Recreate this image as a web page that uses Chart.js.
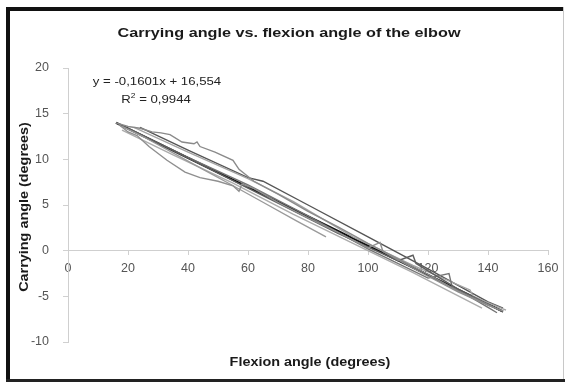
<!DOCTYPE html>
<html>
<head>
<meta charset="utf-8">
<script src="https://cdn.jsdelivr.net/npm/chart.js@4/dist/chart.umd.min.js"></script>
<style>
html,body{margin:0;padding:0;background:#fff;}
#wrap{width:565px;height:382px;position:relative;}
</style>
</head>
<body>
<div id="wrap"><canvas id="c" width="565" height="382"></canvas></div>
<script>
// ---- data ----
const chartTitle = "Carrying angle vs. flexion angle of the elbow";
const xTitle = "Flexion angle (degrees)";
const yTitle = "Carrying angle (degrees)";
const equationText = "y = -0,1601x + 16,554";
const r2Label = "R";
const r2Value = " = 0,9944";

const xTicks = [0, 20, 40, 60, 80, 100, 120, 140, 160];
const yTicks = [-10, -5, 0, 5, 10, 15, 20];

// subject curves: flexion angle (x) and carrying angle (y)
const s1x = [16, 20, 24, 28, 31, 34, 38, 42, 43, 44, 49, 55, 57, 62, 70, 80, 90, 100, 110, 120, 130, 140, 144];
const s1y = [14.0, 13.6, 13.4, 13.0, 12.9, 12.7, 11.9, 11.7, 11.9, 11.4, 10.8, 9.9, 8.9, 7.6, 6.2, 4.3, 2.6, 0.8, -0.9, -2.6, -4.4, -5.9, -6.5];
const s2x = [17, 20, 23, 27, 33, 39, 44, 50, 55, 57, 58, 62, 70, 80, 90, 100, 104, 105, 110, 120, 130, 140, 145];
const s2y = [13.8, 13.0, 12.6, 11.4, 9.9, 8.6, 8.0, 7.6, 7.1, 6.5, 7.3, 6.8, 5.3, 3.6, 2.0, 0.3, 0.9, -0.1, -1.0, -2.8, -4.5, -6.0, -6.6];
const s3x = [18, 25, 35, 45, 54, 65, 76, 86];
const s3y = [13.6, 12.5, 10.7, 8.9, 7.3, 5.3, 3.3, 1.5];
const s4x = [16, 30, 50, 70, 90, 110, 115, 116, 130, 145];
const s4y = [14.0, 11.8, 8.5, 5.2, 1.9, -1.1, -0.5, -1.4, -4.2, -6.7];
const s5x = [20, 40, 60, 80, 100, 120, 127, 128, 140, 143];
const s5y = [13.4, 10.2, 7.2, 3.8, 0.2, -3.0, -2.5, -3.9, -6.2, -6.8];
const s6x = [22, 40, 60, 75, 95, 115, 134, 135, 146];
const s6y = [13.5, 10.8, 7.9, 5.4, 1.5, -1.6, -4.3, -5.0, -6.5];
const s7x = [18, 35, 55, 75, 95, 115, 138];
const s7y = [13.2, 10.5, 7.4, 4.0, 0.8, -2.4, -6.3];
const s8x = [24, 40, 60, 65, 80, 100, 120, 140, 145];
const s8y = [13.5, 11.0, 8.0, 7.6, 5.0, 1.5, -2.0, -5.6, -6.3];
// linear trend line end points
const trendX = [16, 145];
const trendY = [14.0, -6.66];

const seriesX = [s1x, s2x, s3x, s4x, s5x, s6x, s7x, s8x];
const seriesY = [s1y, s2y, s3y, s4y, s5y, s6y, s7y, s8y];
const seriesColors = ['#8a8a8a', '#8f8f8f', '#9a9a9a', '#5e5e5e', '#747474', '#a4a4a4', '#acacac', '#555555'];

function toPts(xs, ys){ return xs.map((x,i)=>({x:x, y:ys[i]})); }

const datasets = seriesX.map((xs,i)=>({
  data: toPts(xs, seriesY[i]),
  showLine: true,
  borderColor: seriesColors[i],
  borderWidth: 1.4,
  pointRadius: 0,
  tension: 0
}));
datasets.push({
  data: toPts(trendX, trendY),
  showLine: true,
  borderColor: '#111',
  borderWidth: 2.2,
  pointRadius: 0
});

const FONT = '"Liberation Sans", Arial, sans-serif';
const STRETCH = 1.2;

function wideText(ctx, text, cx, cy, rot){
  ctx.save();
  ctx.translate(cx, cy);
  if (rot) ctx.rotate(rot);
  ctx.scale(STRETCH, 1);
  ctx.textAlign = 'center';
  ctx.textBaseline = 'middle';
  ctx.fillText(text, 0, 0);
  ctx.restore();
}

const framePlugin = {
  id: 'frame',
  beforeDraw(chart){
    const ctx = chart.ctx;
    ctx.save();
    ctx.fillStyle = '#fff';
    ctx.fillRect(0,0,chart.width,chart.height);
    ctx.restore();
  },
  afterDraw(chart){
    const ctx = chart.ctx;
    const a = chart.chartArea;
    ctx.save();
    // frame
    ctx.fillStyle = '#111';
    ctx.fillRect(6, 7, 4, 375);
    ctx.fillRect(6, 7, 557, 4);
    ctx.fillStyle = '#222';
    ctx.fillRect(6, 379, 559, 3);
    ctx.fillStyle = '#c8c8c8';
    ctx.fillRect(563, 7, 1, 372);
    // title
    ctx.fillStyle = '#1a1a1a';
    ctx.font = 'bold 13.5px ' + FONT;
    wideText(ctx, chartTitle, 289, 33);
    // x axis title
    ctx.font = 'bold 12px ' + FONT;
    wideText(ctx, xTitle, (a.left + a.right)/2 + 2, 363);
    // y axis title
    wideText(ctx, yTitle, 25, (a.top + a.bottom)/2 + 2, -Math.PI/2);
    // equation
    ctx.fillStyle = '#222';
    ctx.font = '11px ' + FONT;
    wideText(ctx, equationText, 157, 82);
    // R^2 line
    ctx.save();
    ctx.translate(156, 100);
    ctx.scale(STRETCH, 1);
    ctx.textBaseline = 'middle';
    ctx.textAlign = 'left';
    const rw = ctx.measureText(r2Label).width;
    const vw = ctx.measureText(r2Value).width;
    const total = rw + 4 + vw;
    const x0 = -total/2;
    ctx.fillText(r2Label, x0, 0);
    ctx.font = '7px ' + FONT;
    ctx.fillText('2', x0 + rw, -4);
    ctx.font = '11px ' + FONT;
    ctx.fillText(r2Value, x0 + rw + 4, 0);
    ctx.restore();
    ctx.restore();
  }
};

new Chart(document.getElementById('c'), {
  type: 'scatter',
  data: { datasets },
  plugins: [framePlugin],
  options: {
    responsive: false,
    animation: false,
    devicePixelRatio: 1,
    layout: { padding: { left: 12, right: 17, top: 68, bottom: 40 } },
    plugins: { legend: { display: false }, tooltip: { enabled: false }, title: { display: false } },
    scales: {
      x: {
        type: 'linear',
        position: { y: 0 },
        min: 0, max: 160,
        afterBuildTicks(scale){ scale.ticks = xTicks.map(v=>({value:v})); },
        ticks: { color: '#555', font: { family: FONT, size: 12.5 }, padding: 6, maxRotation: 0 },
        grid: { drawOnChartArea: false, drawTicks: true, tickLength: 4, color: '#d0d0d0' },
        border: { display: true, color: '#cfcfcf', width: 1 }
      },
      y: {
        type: 'linear',
        position: 'left',
        min: -10, max: 20,
        afterBuildTicks(scale){ scale.ticks = yTicks.map(v=>({value:v})); },
        afterFit(scale){ scale.width = 56; },
        ticks: { color: '#555', font: { family: FONT, size: 12.5 }, padding: 14 },
        grid: { drawOnChartArea: false, drawTicks: true, tickLength: 5, color: '#d0d0d0' },
        border: { display: true, color: '#cfcfcf', width: 1 }
      }
    }
  }
});
</script>
</body>
</html>
